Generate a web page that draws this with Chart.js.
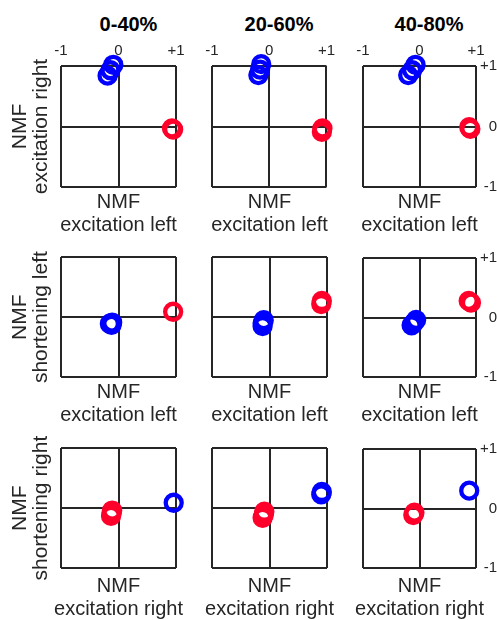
<!DOCTYPE html>
<html><head><meta charset="utf-8">
<script src="https://cdn.jsdelivr.net/npm/chart.js@4/dist/chart.umd.min.js"></script>
<style>
html,body{margin:0;padding:0;background:#fff;width:497px;height:620px;overflow:hidden;position:relative;}
canvas{position:absolute;}
.ct{position:absolute;top:12px;font:bold 20px/24px "Liberation Sans",Arial,sans-serif;color:#000;white-space:nowrap;transform:translateX(-50%);}
</style></head><body>
<script>
// ---------- data ----------
const columnTitles = ['0-40%', '20-60%', '40-80%'];
const tickValues = [-1, 0, 1];
const tickLabels = ['-1', '0', '+1'];
const yAxisLabels = [['NMF', 'excitation right'], ['NMF', 'shortening left'], ['NMF', 'shortening right']];
const xAxisLabels = [['NMF', 'excitation left'], ['NMF', 'excitation left'], ['NMF', 'excitation right']];

// [x, y] points, blue and red groups for each panel (row, column)
const blueR1C1 = [[-0.09, 1.02], [-0.14, 0.93], [-0.19, 0.84]];
const redR1C1  = [[0.93, -0.03], [0.95, -0.05]];
const blueR1C2 = [[-0.14, 1.03], [-0.16, 0.94], [-0.19, 0.85]];
const redR1C2  = [[0.93, -0.03], [0.92, -0.09]];
const blueR1C3 = [[-0.07, 1.02], [-0.13, 0.93], [-0.20, 0.85]];
const redR1C3  = [[0.88, -0.01], [0.90, -0.04]];

const blueR2C1 = [[-0.11, -0.09], [-0.15, -0.11], [-0.12, -0.13]];
const redR2C1  = [[0.95, 0.09]];
const blueR2C2 = [[-0.10, -0.05], [-0.12, -0.10], [-0.12, -0.15]];
const redR2C2  = [[0.91, 0.27], [0.90, 0.22]];
const blueR2C3 = [[-0.06, -0.04], [-0.10, -0.09], [-0.14, -0.13]];
const redR2C3  = [[0.87, 0.28], [0.91, 0.25]];

const blueR3C1 = [[0.96, 0.09]];
const redR3C1  = [[-0.11, -0.04], [-0.12, -0.09], [-0.13, -0.13]];
const blueR3C2 = [[0.91, 0.27], [0.90, 0.23]];
const redR3C2  = [[-0.09, -0.06], [-0.10, -0.11], [-0.12, -0.16]];
const blueR3C3 = [[0.88, 0.30]];
const redR3C3  = [[-0.09, -0.07], [-0.11, -0.11]];

const panels = [
  [[blueR1C1, redR1C1], [blueR1C2, redR1C2], [blueR1C3, redR1C3]],
  [[blueR2C1, redR2C1], [blueR2C2, redR2C2], [blueR2C3, redR2C3]],
  [[blueR3C1, redR3C1], [blueR3C2, redR3C2], [blueR3C3, redR3C3]]
];

// ---------- layout / style ----------
const FONT = '"Liberation Sans", Arial, sans-serif';
const INK = '#262626';
const BLUE = '#0000ff';
const RED = 'rgb(255,0,43)';
Chart.defaults.font.family = FONT;

const colBox = [[61, 176], [212, 327], [363, 476]];
const colSide = [61, 14, 21];
const titleCenters = [128.5, 279, 429];
const rowBox = [[66, 187], [255, 377], [446, 568]];
const rowTop = [66, 10, 10];
const rowSubPad = [4, 4, 7];
const SUB_LH = 23;

columnTitles.forEach((t, i) => {
  const d = document.createElement('div');
  d.className = 'ct';
  d.textContent = t;
  d.style.left = titleCenters[i] + 'px';
  document.body.appendChild(d);
});

const toPts = arr => arr.map(p => ({x: p[0], y: p[1]}));
const tickCb = v => { const i = tickValues.indexOf(v); return i >= 0 ? tickLabels[i] : ''; };

for (let r = 0; r < 3; r++) {
  for (let c = 0; c < 3; c++) {
    const S = colSide[c];
    const T = rowTop[r];
    const subH = 2 * SUB_LH + rowSubPad[r] + 4;
    const left = colBox[c][0] - S;
    const width = S + (colBox[c][1] - colBox[c][0]) + S;
    const top = rowBox[r][0] - T;
    const height = T + (rowBox[r][1] - rowBox[r][0]) + subH;
    const cv = document.createElement('canvas');
    cv.width = width; cv.height = height;
    cv.style.left = left + 'px'; cv.style.top = top + 'px';
    cv.style.width = width + 'px'; cv.style.height = height + 'px';
    document.body.appendChild(cv);
    const [blue, red] = panels[r][c];
    const ptStyle = color => ({
      pointRadius: 8, pointHoverRadius: 8, pointBorderWidth: 4.3, pointHoverBorderWidth: 4.3,
      pointBackgroundColor: 'rgba(0,0,0,0)', pointBorderColor: color, borderColor: color,
      showLine: false, clip: false
    });
    new Chart(cv, {
      type: 'scatter',
      data: {
        datasets: [
          Object.assign({label: 'blue', data: toPts(blue)}, ptStyle(BLUE)),
          Object.assign({label: 'red', data: toPts(red)}, ptStyle(RED))
        ]
      },
      options: {
        responsive: false, animation: false, devicePixelRatio: 1,
        layout: {padding: 0},
        events: [],
        plugins: {
          legend: {display: false}, tooltip: {enabled: false}, title: {display: false},
          subtitle: {
            display: true, position: 'bottom', text: xAxisLabels[r], color: INK,
            font: {family: FONT, size: 20, lineHeight: SUB_LH / 20, weight: 'normal'},
            padding: {top: rowSubPad[r], bottom: 4}
          }
        },
        scales: {
          x: {
            type: 'linear', position: 'top', min: -1, max: 1,
            ticks: {stepSize: 1, display: r === 0, padding: 6, color: INK, font: {size: 15}, callback: tickCb, maxRotation: 0},
            grid: {color: INK, lineWidth: 2, drawTicks: false},
            border: {display: false},
            afterFit: s => { s.height = T; }
          },
          y: {
            type: 'linear', position: c === 2 ? 'right' : 'left', min: -1, max: 1,
            ticks: {stepSize: 1, display: c === 2, padding: 4, crossAlign: 'far', color: INK, font: {size: 15}, callback: tickCb},
            grid: {color: INK, lineWidth: 2, drawTicks: false},
            border: {display: false},
            title: {display: c === 0, text: yAxisLabels[r], color: INK, font: {family: FONT, size: 21, lineHeight: 1}, padding: {top: 10, bottom: 0}},
            afterFit: s => { s.width = S; }
          },
          y2: {
            type: 'linear', position: c === 2 ? 'left' : 'right', min: -1, max: 1, display: true,
            grid: {display: false}, ticks: {display: false}, border: {display: false},
            afterFit: s => { s.width = S; }
          }
        }
      }
    });
  }
}
</script>
</body></html>
